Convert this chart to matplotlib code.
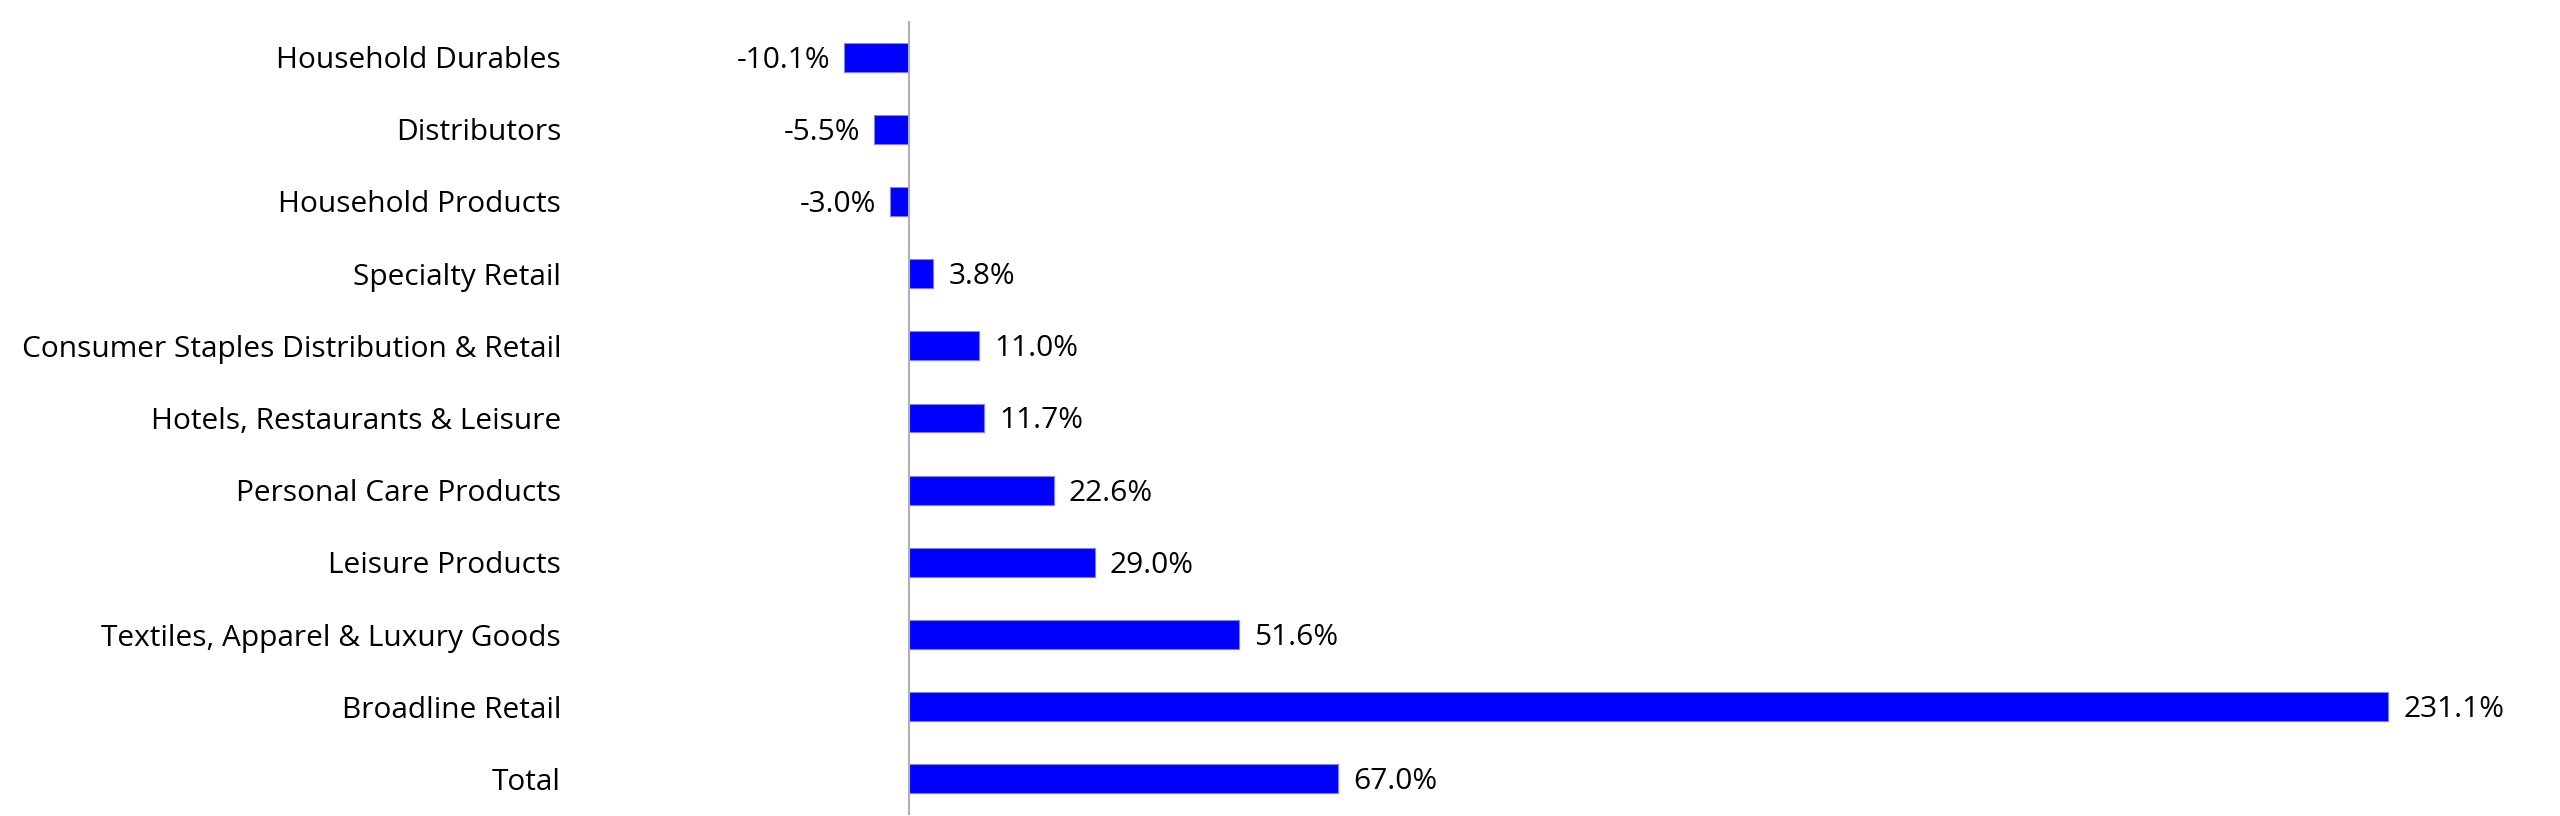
import matplotlib
matplotlib.use("Agg")
import matplotlib.pyplot as plt

categories = ["Household Durables", "Distributors", "Household Products", "Specialty Retail",
              "Consumer Staples Distribution & Retail", "Hotels, Restaurants & Leisure",
              "Personal Care Products", "Leisure Products", "Textiles, Apparel & Luxury Goods",
              "Broadline Retail", "Total"]
values = [-10.1, -5.5, -3.0, 3.8, 11.0, 11.7, 22.6, 29.0, 51.6, 231.1, 67.0]
labels = ["-10.1%", "-5.5%", "-3.0%", "3.8%", "11.0%", "11.7%", "22.6%", "29.0%", "51.6%", "231.1%", "67.0%"]

plt.rcParams['font.family'] = ['Open Sans', 'DejaVu Sans']
FS = 21.5

fig = plt.figure(figsize=(25.6, 8.16), dpi=100)
ax = fig.add_axes([589/2560, 1 - 815/816, (2509-589)/2560, (815-21)/816])
ypos = list(range(len(categories)))
ax.barh(ypos, values, height=0.4, color="#0000FF", edgecolor="#7F7FFF", linewidth=0.8)
ax.set_xlim(-50, 250)
ax.set_ylim(len(categories) - 0.5, -0.5)
ax.axvline(0, color="#B0B0B0", linewidth=1.5)
for s in ax.spines.values():
    s.set_visible(False)
ax.set_xticks([])
ax.set_yticks(ypos)
ax.set_yticklabels(categories, fontsize=FS, color="#000000")
ax.tick_params(axis='y', length=0, pad=20)
for y, v, t in zip(ypos, values, labels):
    if v >= 0:
        ax.annotate(t, (v, y), xytext=(15, -3), textcoords="offset pixels",
                    ha="left", va="center", fontsize=FS)
    else:
        ax.annotate(t, (v, y), xytext=(-14, -3), textcoords="offset pixels",
                    ha="right", va="center", fontsize=FS)
fig.savefig("out.png", dpi=100)
